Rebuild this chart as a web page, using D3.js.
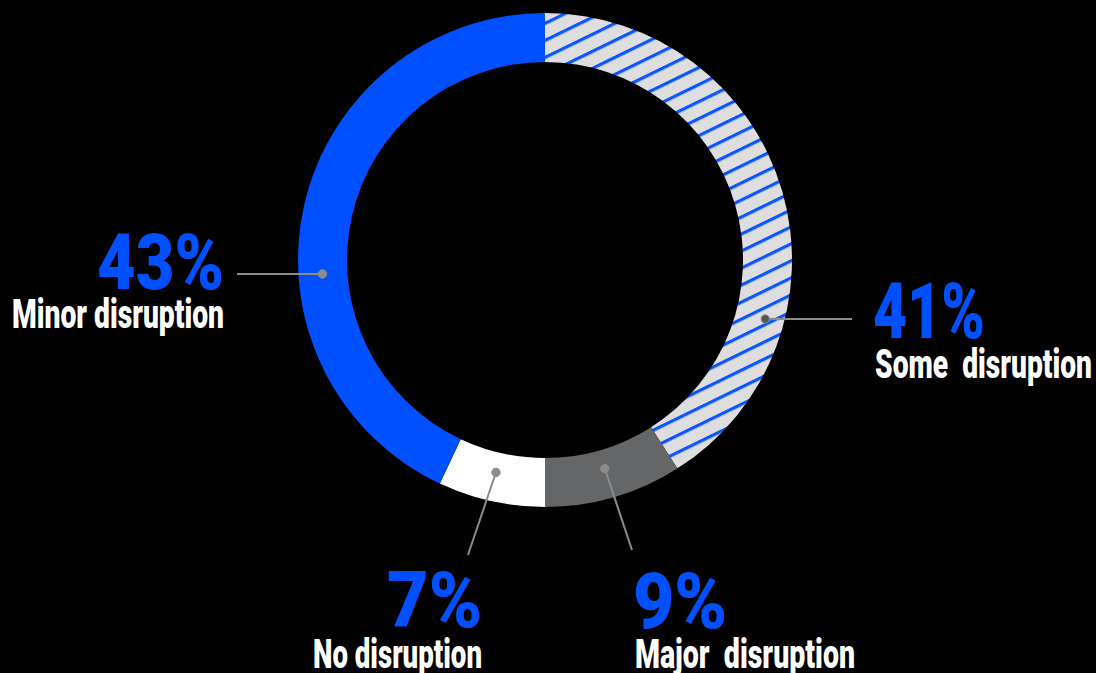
<!DOCTYPE html>
<html>
<head>
<meta charset="utf-8">
<script src="https://cdn.jsdelivr.net/npm/d3@7"></script>
<style>
  html, body { margin: 0; padding: 0; background: #000; }
  svg { display: block; }
  text { font-family: "Roboto", "Liberation Sans", sans-serif; font-weight: 900; white-space: pre; }
</style>
</head>
<body>
<svg id="chart" width="1096" height="673"></svg>
<script>
// Survey shares, clockwise from 12 o'clock
const categories = ["Some  disruption", "Major  disruption", "No disruption", "Minor disruption"];
const shares = [41, 9, 7, 43];
const percentLabels = ["41%", "9%", "7%", "43%"];

const fills = ["url(#hatch)", "#646668", "#ffffff", "#0050ff"];

// Callout placement for each slice: dot (angle in degrees clockwise from top, radius),
// leader end, and text block anchor
const callouts = [
  { angle: 105, r: 228, end: [852, 319], x: 873, anchor: "start", pctY: 338, lblY: 378, pctW: 112, lblW: 217 },
  { angle: 164, r: 217, end: [632, 550], x: 633, anchor: "start", pctY: 628, lblY: 668, pctW: 94,  lblW: 220 },
  { angle: 193, r: 218, end: [468, 555], x: 482, anchor: "end",   pctY: 627, lblY: 668, pctW: 95,  lblW: 169 },
  { angle: 266.4, r: 223, end: [237, 274], x: 224, anchor: "end", pctY: 289, lblY: 328, pctW: 127, lblW: 212 }
];

const svg = d3.select("#chart");
const cx = 545, cy = 260, outerR = 247, innerR = 198;

// Diagonal blue hatching on a light grey ground
const defs = svg.append("defs");
const pat = defs.append("pattern")
  .attr("id", "hatch")
  .attr("patternUnits", "userSpaceOnUse")
  .attr("width", 40).attr("height", 15.3)
  .attr("patternTransform", "rotate(-26)");
pat.append("rect").attr("width", 40).attr("height", 15.3).attr("fill", "#dedede");
pat.append("rect").attr("y", 0).attr("width", 40).attr("height", 3.2).attr("fill", "#0a55ff");

const data = categories.map((c, i) => ({ name: c, value: shares[i], pct: percentLabels[i], fill: fills[i], co: callouts[i] }));

const pie = d3.pie().sort(null).value(d => d.value).startAngle(0).endAngle(2 * Math.PI);
const arc = d3.arc().innerRadius(innerR).outerRadius(outerR);

const g = svg.append("g").attr("transform", `translate(${cx},${cy})`);
g.selectAll("path.slice")
  .data(pie(data))
  .join("path")
  .attr("class", "slice")
  .attr("d", arc)
  .attr("fill", d => d.data.fill);

// Leader lines and dots
const toXY = (deg, r) => {
  const a = deg * Math.PI / 180;
  return [cx + r * Math.sin(a), cy - r * Math.cos(a)];
};

const lead = svg.append("g");
data.forEach(d => {
  const [dx, dy] = toXY(d.co.angle, d.co.r);
  lead.append("line")
    .attr("x1", dx).attr("y1", dy)
    .attr("x2", d.co.end[0]).attr("y2", d.co.end[1])
    .attr("stroke", "#8c8c8c").attr("stroke-width", 2);
  lead.append("circle")
    .attr("cx", dx).attr("cy", dy).attr("r", 4.2)
    .attr("fill", d.fill === "url(#hatch)" ? "#555" : "#8c8c8c")
    .attr("stroke", "#8c8c8c").attr("stroke-width", 1);
});

// Percentages and category names
const txt = svg.append("g");
data.forEach(d => {
  txt.append("text")
    .attr("x", d.co.x).attr("y", d.co.pctY)
    .attr("text-anchor", d.co.anchor)
    .attr("font-size", 77)
    .attr("fill", "#0050ff")
    .attr("textLength", d.co.pctW)
    .attr("lengthAdjust", "spacingAndGlyphs")
    .text(d.pct);
  txt.append("text")
    .attr("x", d.co.anchor === "start" ? d.co.x + 2 : d.co.x)
    .attr("y", d.co.lblY)
    .attr("text-anchor", d.co.anchor)
    .attr("font-size", 40)
    .attr("fill", "#ffffff")
    .attr("textLength", d.co.lblW)
    .attr("lengthAdjust", "spacingAndGlyphs")
    .text(d.name);
});
</script>
</body>
</html>
